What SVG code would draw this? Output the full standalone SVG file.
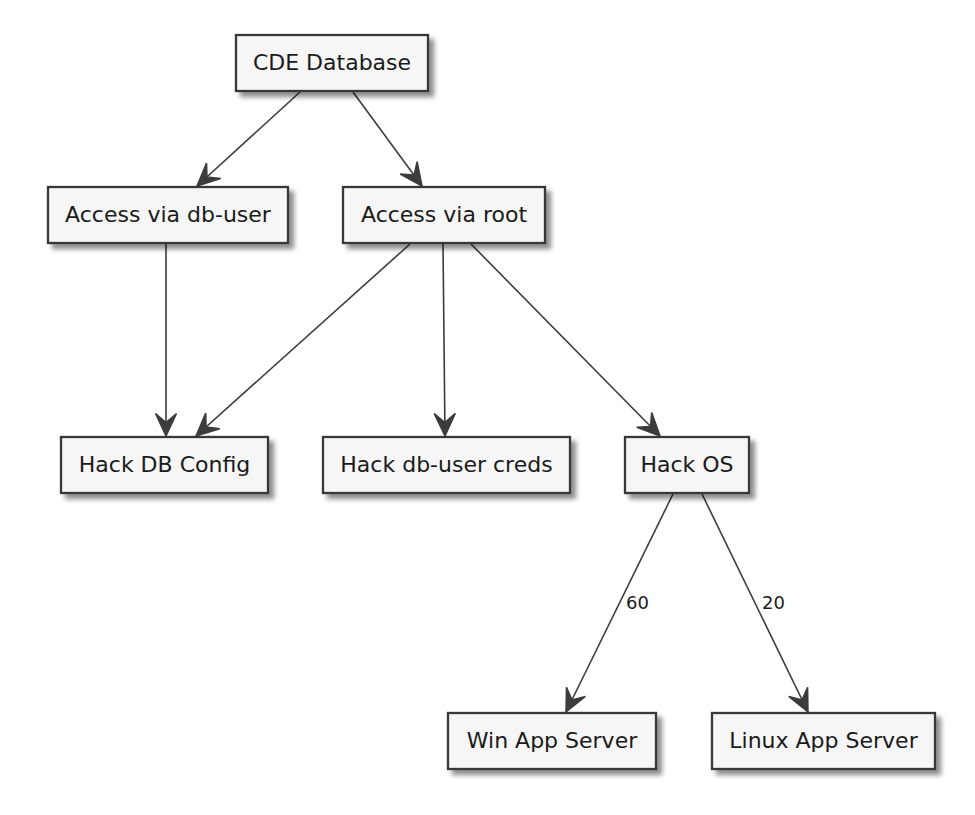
<svg xmlns="http://www.w3.org/2000/svg" width="975" height="815" viewBox="0 0 975 815">
<style>
.node rect{fill:#F6F6F6;stroke:#383838;stroke-width:2.3;filter:url(#sh)}
.node text{font-family:"DejaVu Sans",sans-serif;font-size:22px;fill:#1a1a1a;text-anchor:middle}
.edge{fill:none;stroke:#3c3c3c;stroke-width:1.6;marker-end:url(#ah)}
.lbl{font-family:"DejaVu Sans",sans-serif;font-size:18px;fill:#1a1a1a}
</style>
<defs>
<filter id="sh" x="-10%" y="-20%" width="130%" height="160%">
<feGaussianBlur in="SourceAlpha" stdDeviation="2.5" result="b"/>
<feOffset in="b" dx="5" dy="5" result="o"/>
<feComponentTransfer in="o" result="c"><feFuncA type="linear" slope="0.45"/></feComponentTransfer>
<feMerge><feMergeNode in="c"/><feMergeNode in="SourceGraphic"/></feMerge>
</filter>
<marker id="ah" markerUnits="userSpaceOnUse" markerWidth="30" markerHeight="30" viewBox="-16 -10 20 20" refX="0" refY="0" orient="auto">
<path d="M0,0 L-15,-7 L-9,0 L-15,7 Z" fill="#3c3c3c" stroke="#3c3c3c" stroke-width="1"/>
</marker>
</defs>
<g id="connectors">
<line class="edge" x1="300" y1="92" x2="197" y2="186"/>
<line class="edge" x1="353" y1="92" x2="422" y2="186"/>
<line class="edge" x1="166" y1="244" x2="166" y2="436"/>
<line class="edge" x1="410" y1="244" x2="196" y2="436"/>
<line class="edge" x1="443" y1="244" x2="445" y2="436"/>
<line class="edge" x1="471" y1="244" x2="660" y2="436"/>
<line class="edge" x1="673" y1="494" x2="566" y2="712"/>
<line class="edge" x1="702" y1="494" x2="808" y2="712"/>
<text class="lbl" x="626" y="609">60</text>
<text class="lbl" x="762" y="609">20</text>
</g>
<g id="cde" class="node"><rect x="236" y="35" width="192" height="56"/><text x="332" y="70">CDE Database</text></g>
<g id="dbuser" class="node"><rect x="48" y="187" width="240" height="56"/><text x="168" y="222">Access via db-user</text></g>
<g id="root" class="node"><rect x="343" y="187" width="202" height="56"/><text x="444" y="222">Access via root</text></g>
<g id="dbconfig" class="node"><rect x="61" y="437" width="207" height="56"/><text x="164.5" y="472">Hack DB Config</text></g>
<g id="creds" class="node"><rect x="323" y="437" width="247" height="56"/><text x="446.5" y="472">Hack db-user creds</text></g>
<g id="os" class="node"><rect x="625" y="437" width="124" height="56"/><text x="687" y="472">Hack OS</text></g>
<g id="win" class="node"><rect x="448" y="713" width="208" height="56"/><text x="552" y="748">Win App Server</text></g>
<g id="linux" class="node"><rect x="712" y="713" width="223" height="56"/><text x="823.5" y="748">Linux App Server</text></g>
</svg>
